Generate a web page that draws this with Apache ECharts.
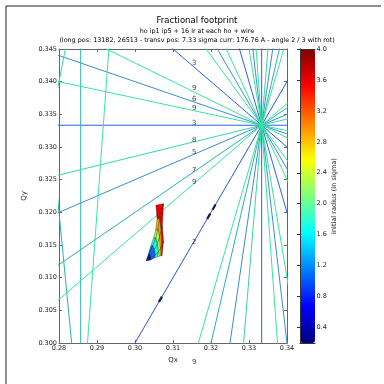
<!DOCTYPE html>
<html>
<head>
<meta charset="utf-8">
<script src="https://cdn.jsdelivr.net/npm/echarts@6/dist/echarts.min.js"></script>
<style>
  html, body { margin: 0; padding: 0; background: #fff; }
  #chart { width: 384px; height: 384px; }
</style>
</head>
<body>
<div id="chart"></div>
<script>
// resonance lines  m*Qx + n*Qy = p  (order = |m| + |n|)
const resM = [1, 1, 2, 3, 0, 1, 4, 1, 5, 3, 2, 5, 6, 7, 1, 7, 6, 1, 2, 4, 5, 7, 8, 3, 6, 8];
const resN = [-1, 2, 1, 0, 3, -4, -1, 5, 1, 3, -5, -2, 1, 0, -7, -1, -2, 8, 7, 5, 4, 2, 1, -6, -3, -1];
const resP = [0, 1, 1, 1, 1, -1, 1, 2, 2, 2, -1, 1, 2, 2, -2, 2, 1, 3, 3, 3, 3, 3, 3, -1, 1, 2];
const orderColors = { 2: "#2a56e4", 3: "#2b62e0", 5: "#3a8cd2", 6: "#3a8ed0", 7: "#27b2b0", 8: "#33d9a2", 9: "#34e69c" };
const labelQx = 0.315;

// footprint: tunes along 5 amplitude rays, at each initial radius (sigma)
const fpRadius = [0.2, 0.8, 1.4, 2.0, 2.6, 3.2, 4.0];
const fpQx = [
  [0.3030, 0.3035, 0.3042, 0.3049, 0.3054, 0.3058, 0.3055],
  [0.3030, 0.3038, 0.3047, 0.3055, 0.3061, 0.3065, 0.3075],
  [0.3030, 0.3041, 0.3051, 0.3059, 0.3065, 0.3069, 0.3072],
  [0.3030, 0.3042, 0.3054, 0.3062, 0.3067, 0.3071, 0.3075],
  [0.3030, 0.3041, 0.3051, 0.3059, 0.3066, 0.3070, 0.3071]
];
const fpQy = [
  [0.3126, 0.3136, 0.3149, 0.3161, 0.3172, 0.3189, 0.3211],
  [0.3126, 0.3136, 0.3149, 0.3161, 0.3175, 0.3192, 0.3213],
  [0.3126, 0.3133, 0.3143, 0.3152, 0.3163, 0.3172, 0.3179],
  [0.3126, 0.3130, 0.3135, 0.3140, 0.3144, 0.3149, 0.3156],
  [0.3126, 0.3127, 0.3130, 0.3132, 0.3133, 0.3134, 0.3133]
];

// small dark marks lying on Qx = Qy
const markFrom = [0.3063, 0.3190, 0.3204];
const markTo = [0.3071, 0.3198, 0.3212];

const xTicks = [0.28, 0.29, 0.30, 0.31, 0.32, 0.33, 0.34];
const yTicks = [0.300, 0.305, 0.310, 0.315, 0.320, 0.325, 0.330, 0.335, 0.340, 0.345];
const cbTicks = [0.4, 0.8, 1.2, 1.6, 2.0, 2.4, 2.8, 3.2, 3.6, 4.0];

const xMin = 0.28, xMax = 0.34, yMin = 0.30, yMax = 0.345;
const FONT = "DejaVu Sans";

const series = [];
const labelData = [];
for (let i = 0; i < resM.length; i++) {
  const m = resM[i], n = resN[i], p = resP[i];
  const order = Math.abs(m) + Math.abs(n);
  let pts;
  if (n === 0) {
    pts = [[p / m, 0.25], [p / m, 0.40]];
  } else {
    pts = [[0.25, (p - m * 0.25) / n], [0.40, (p - m * 0.40) / n]];
    const yl = (p - m * labelQx) / n;
    if (yl > yMin - 0.005 && yl < yMax) labelData.push([labelQx, yl, order]);
  }
  series.push({
    type: "line",
    data: pts,
    symbol: "none",
    silent: true,
    z: 2,
    lineStyle: { width: 1, color: orderColors[order] }
  });
}

series.push({
  type: "scatter",
  data: labelData,
  symbolSize: 0,
  clip: false,
  silent: true,
  z: 4,
  label: {
    show: true,
    position: "right",
    distance: 0,
    offset: [0, -2.5],
    formatter: p => String(p.value[2]),
    fontFamily: FONT,
    fontSize: 7,
    color: "#111"
  }
});

for (let k = 0; k < markFrom.length; k++) {
  series.push({
    type: "line",
    data: [[markFrom[k], markFrom[k]], [markTo[k], markTo[k]]],
    symbol: "none",
    silent: true,
    z: 5,
    lineStyle: { width: 2.2, color: "#1c1c3a" }
  });
}

const cells = [];
for (let a = 0; a < fpQx.length - 1; a++) {
  for (let j = 0; j < fpRadius.length - 1; j++) {
    cells.push([
      fpQx[a][j], fpQy[a][j],
      fpQx[a][j + 1], fpQy[a][j + 1],
      fpQx[a + 1][j + 1], fpQy[a + 1][j + 1],
      fpQx[a + 1][j], fpQy[a + 1][j],
      (fpRadius[j] + fpRadius[j + 1]) / 2
    ]);
  }
}
const fpIndex = series.length;
series.push({
  type: "custom",
  data: cells,
  silent: true,
  z: 6,
  encode: { x: [0, 2, 4, 6], y: [1, 3, 5, 7] },
  renderItem: function (params, api) {
    const pts = [];
    for (let k = 0; k < 4; k++) pts.push(api.coord([api.value(2 * k), api.value(2 * k + 1)]));
    return {
      type: "polygon",
      shape: { points: pts },
      style: { fill: api.visual("color"), stroke: "rgba(0,0,0,0.6)", lineWidth: 0.5 }
    };
  }
});

const tickLab = { fontFamily: FONT, fontSize: 6.5, color: "#222" };
const axisLine = { show: true, lineStyle: { color: "#666", width: 1 } };

const chart = echarts.init(document.getElementById("chart"));
chart.setOption({
  animation: false,
  backgroundColor: "#fff",
  title: [
    { text: "Fractional footprint", left: 197, top: 16, textAlign: "center", padding: 0,
      textStyle: { fontFamily: FONT, fontSize: 8.5, fontWeight: "normal", color: "#000" } },
    { text: "ho ip1 ip5 + 16 lr at each ho + wire", left: 197, top: 28, textAlign: "center", padding: 0,
      textStyle: { fontFamily: FONT, fontSize: 6.4, fontWeight: "normal", color: "#000" } },
    { text: "(long pos: 13182, 26513 - transv pos: 7.33 sigma curr: 176.76 A - angle 2 / 3 with rot)",
      left: 197, top: 37, textAlign: "center", padding: 0,
      textStyle: { fontFamily: FONT, fontSize: 6.4, fontWeight: "normal", color: "#000" } }
  ],
  grid: [
    { left: 59, top: 49, width: 228, height: 294 },
    { left: 300, top: 49, width: 15, height: 294 }
  ],
  xAxis: [
    { type: "value", gridIndex: 0, min: xMin, max: xMax, position: "bottom",
      name: "Qx", nameLocation: "middle", nameGap: 5,
      nameTextStyle: { fontFamily: FONT, fontSize: 7, color: "#222" },
      axisLine, splitLine: { show: false },
      axisTick: { inside: true, length: 3, customValues: xTicks, lineStyle: { color: "#666" } },
      axisLabel: Object.assign({ customValues: xTicks, margin: 2, formatter: v => v.toFixed(2) }, tickLab) },
    { type: "value", gridIndex: 0, min: xMin, max: xMax, position: "top",
      axisLine, splitLine: { show: false },
      axisTick: { inside: true, length: 3, customValues: xTicks, lineStyle: { color: "#666" } },
      axisLabel: { show: false, customValues: xTicks } },
    { type: "value", gridIndex: 1, min: 0, max: 1, position: "bottom", z: 10,
      axisLine: { show: true, lineStyle: { color: "#333" } }, axisTick: { show: false },
      axisLabel: { show: false }, splitLine: { show: false } },
    { type: "value", gridIndex: 1, min: 0, max: 1, position: "top", z: 10,
      axisLine: { show: true, lineStyle: { color: "#333" } }, axisTick: { show: false },
      axisLabel: { show: false }, splitLine: { show: false } }
  ],
  yAxis: [
    { type: "value", gridIndex: 0, min: yMin, max: yMax, position: "left",
      name: "Qy", nameLocation: "middle", nameGap: 21, nameRotate: 90,
      nameTextStyle: { fontFamily: FONT, fontSize: 7, color: "#222" },
      axisLine, splitLine: { show: false },
      axisTick: { inside: true, length: 3, customValues: yTicks, lineStyle: { color: "#666" } },
      axisLabel: Object.assign({ customValues: yTicks, margin: 2, formatter: v => v.toFixed(3) }, tickLab) },
    { type: "value", gridIndex: 0, min: yMin, max: yMax, position: "right",
      axisLine, splitLine: { show: false },
      axisTick: { inside: true, length: 3, customValues: yTicks, lineStyle: { color: "#666" } },
      axisLabel: { show: false, customValues: yTicks } },
    { type: "value", gridIndex: 1, min: 0.2, max: 4.0, position: "right", z: 10,
      name: "initial radius (in sigma)", nameLocation: "middle", nameGap: 12, nameRotate: 90,
      nameTextStyle: { fontFamily: FONT, fontSize: 6.6, color: "#222" },
      axisLine: { show: true, lineStyle: { color: "#333" } }, splitLine: { show: false },
      axisTick: { inside: true, length: 3, customValues: cbTicks, lineStyle: { color: "#333" } },
      axisLabel: Object.assign({ customValues: cbTicks, margin: 1.5, formatter: v => v.toFixed(1) }, tickLab) },
    { type: "value", gridIndex: 1, min: 0.2, max: 4.0, position: "left", z: 10,
      axisLine: { show: true, lineStyle: { color: "#333" } }, axisTick: { show: false },
      axisLabel: { show: false }, splitLine: { show: false } }
  ],
  visualMap: {
    type: "continuous",
    seriesIndex: fpIndex,
    dimension: 8,
    min: 0.2,
    max: 4.0,
    left: 300,
    top: 49,
    itemWidth: 15,
    itemHeight: 294,
    padding: 0,
    calculable: false,
    hoverLink: false,
    z: 1,
    inRange: { color: ["#00007f", "#0000ff", "#007fff", "#00ffff", "#7fff7f", "#ffff00", "#ff7f00", "#ff0000", "#7f0000"] }
  },
  graphic: [
    { type: "line", shape: { x1: 6, y1: 6, x2: 381, y2: 6 }, style: { stroke: "#222", lineWidth: 1 } },
    { type: "line", shape: { x1: 6, y1: 6, x2: 6, y2: 384 }, style: { stroke: "#222", lineWidth: 1 } }
  ],
  series
});
</script>
</body>
</html>
